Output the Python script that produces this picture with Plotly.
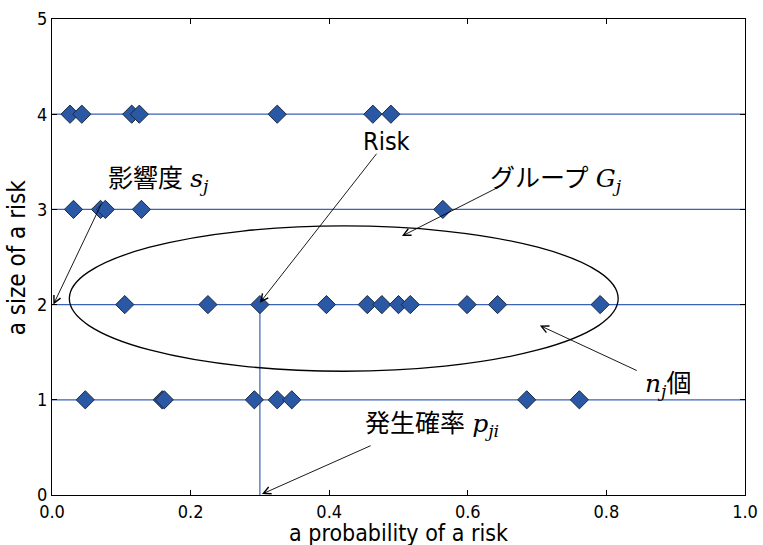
import plotly.graph_objects as go

# Risk items: probability (x) grouped by size level (y)
levels = [4, 3, 2, 1]
prob_level4 = [0.026, 0.043, 0.115, 0.126, 0.325, 0.463, 0.489]
prob_level3 = [0.031, 0.070, 0.077, 0.129, 0.564]
prob_level2 = [0.105, 0.225, 0.300, 0.396, 0.455, 0.476, 0.500, 0.517, 0.599, 0.643, 0.791]
prob_level1 = [0.048, 0.159, 0.162, 0.292, 0.325, 0.346, 0.685, 0.761]
probs_by_level = [prob_level4, prob_level3, prob_level2, prob_level1]

# highlighted risk (dropped onto the probability axis)
risk_p, risk_s = 0.300, 2

# group ellipse bounds
group_x = [0.025, 0.817]
group_y = [1.30, 2.826]

x_ticks = [0.0, 0.2, 0.4, 0.6, 0.8, 1.0]
y_ticks = [0, 1, 2, 3, 4, 5]

LINE_BLUE = "#3a62b8"
MARK_BLUE = "#2b58a5"
SANS = "DejaVu Sans Condensed, DejaVu Sans, Noto Sans CJK JP"
SERIF = "DejaVu Serif, Liberation Serif"

fig = go.Figure()

# level lines across the full probability range
for lv in levels:
    fig.add_trace(go.Scatter(x=[0, 1], y=[lv, lv], mode="lines",
                             line=dict(color=LINE_BLUE, width=1.2),
                             hoverinfo="skip", showlegend=False))

# drop line from the highlighted risk to the x axis
fig.add_trace(go.Scatter(x=[risk_p, risk_p], y=[0, risk_s], mode="lines",
                         line=dict(color=LINE_BLUE, width=1.2),
                         hoverinfo="skip", showlegend=False))

# risk markers
for lv, ps in zip(levels, probs_by_level):
    fig.add_trace(go.Scatter(x=ps, y=[lv] * len(ps), mode="markers",
                             marker=dict(symbol="diamond", size=14, color=MARK_BLUE,
                                         line=dict(color="#1a2a40", width=1)),
                             showlegend=False))

# group ellipse
fig.add_shape(type="circle", xref="x", yref="y",
              x0=group_x[0], x1=group_x[1], y0=group_y[0], y1=group_y[1],
              line=dict(color="black", width=1.3))

def label(x, y, text):
    fig.add_annotation(x=x, y=y, xref="x", yref="y", text=text, showarrow=False,
                       font=dict(family=SANS, size=25, color="black"))

def arrow(x_head, y_head, x_tail, y_tail):
    fig.add_annotation(x=x_head, y=y_head, ax=x_tail, ay=y_tail,
                       xref="x", yref="y", axref="x", ayref="y", text="",
                       showarrow=True, arrowhead=5, arrowsize=1.6, arrowwidth=0.9,
                       arrowcolor="black", standoff=0, startstandoff=0)

def mi(s):
    return f"<span style='font-family:{SERIF}'><i>{s}</i></span>"

label(0.153, 3.31, "影響度 " + mi("s") + "<sub>" + mi("j") + "</sub>")
arrow(0.002, 2.0, 0.072, 3.07)

label(0.483, 3.71, "Risk")
arrow(0.300, 2.02, 0.470, 3.60)

label(0.727, 3.31, "グループ " + mi("G") + "<sub>" + mi("j") + "</sub>")
arrow(0.505, 2.72, 0.646, 3.24)

label(0.889, 1.16, mi("n") + "<sub>" + mi("j") + "</sub>個")
arrow(0.704, 1.78, 0.846, 1.30)

label(0.548, 0.74, "発生確率 " + mi("p") + "<sub>" + mi("ji") + "</sub>")
arrow(0.303, 0.01, 0.462, 0.525)

# axis titles
fig.add_annotation(x=0.5, y=-0.08, xref="paper", yref="paper", yanchor="middle",
                   text="a probability of a risk", showarrow=False,
                   font=dict(family=SANS, size=23, color="black"))
fig.add_annotation(x=-0.05, y=0.5, xref="paper", yref="paper", xanchor="center",
                   text="a size of a risk", textangle=-90, showarrow=False,
                   font=dict(family=SANS, size=24, color="black"))

axis_common = dict(showgrid=False, zeroline=False, showline=True, linecolor="black",
                   linewidth=1.2, mirror="ticks", ticks="inside", ticklen=5,
                   tickcolor="black", automargin=False,
                   tickfont=dict(family=SANS, size=18, color="black"))

fig.update_xaxes(range=[0, 1], tickvals=x_ticks,
                 ticktext=[f"{v:.1f}" for v in x_ticks], **axis_common)
fig.update_yaxes(range=[0, 5], tickvals=y_ticks,
                 ticktext=[str(v) for v in y_ticks], **axis_common)

fig.update_layout(width=763, height=545, margin=dict(l=52, r=18, t=19, b=50),
                  plot_bgcolor="white", paper_bgcolor="white")

fig.write_html("out.html")
